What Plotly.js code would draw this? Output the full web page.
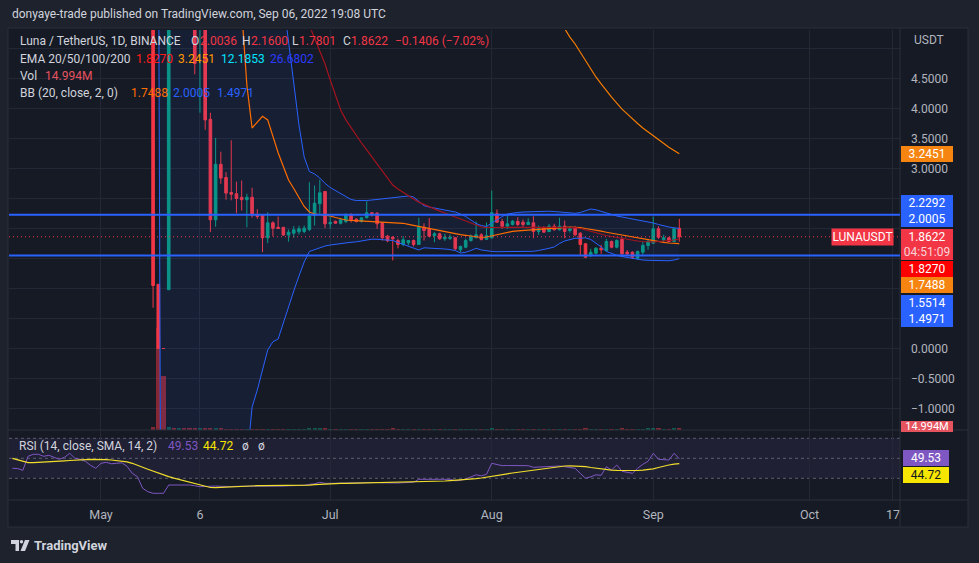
<!DOCTYPE html>
<html><head><meta charset="utf-8">
<script src="https://cdn.plot.ly/plotly-3.0.1.min.js"></script>
<style>html,body{margin:0;padding:0;background:#1e222d;}#chart{width:979px;height:563px;}</style>
</head><body><div id="chart"></div>
<script>
// ---------------- DATA (bar index: 0 = first RSI bar, 128 = Sep 06 2022) ----------------
const candleFirstBar = 27;
const open  = [6.0,1.07,0.0003,0.98,8.2,7.2,9.1,6.3,6.1,5.45,
  5.8,3.82,2.145,3.07,2.85,2.6,2.58,2.52,2.48,2.52,
  2.23,2.22,1.845,2.095,2.02,2.02,1.89,1.922,1.945,1.95,
  1.983,2.217,2.412,2.617,2.078,2.12,2.088,2.117,2.233,2.155,
  2.117,2.178,2.262,2.255,2.095,1.872,1.855,1.8,1.733,1.762,
  1.8,1.733,2.022,1.995,1.883,1.912,1.828,1.835,1.845,1.645,
  1.688,1.8,1.845,1.895,1.82,1.845,2.245,2.117,2.038,2.067,
  2.117,2.105,2.067,2.095,1.95,2.005,1.95,2.038,1.978,2.038,
  1.967,2.005,1.922,1.745,1.562,1.588,1.672,1.633,1.783,1.688,
  1.817,1.605,1.605,1.505,1.605,1.717,1.755,1.995,1.812,1.845,
  1.783,2.0036];
const high  = [8.0,1.07,0.0004,19.5,10.5,9.6,9.8,7.2,6.6,7.2,
  6.2,3.93,3.51,3.28,2.94,3.47,2.78,2.8,2.58,2.68,
  2.32,2.23,2.27,2.12,2.2,2.02,1.985,2.04,2.045,2.05,
  2.772,2.717,2.812,2.62,2.2,2.13,2.167,2.255,2.255,2.172,
  2.189,2.455,2.27,2.272,2.105,1.895,1.872,1.83,1.872,1.8,
  1.817,2.178,2.088,2.172,1.94,1.93,1.912,1.9,1.855,1.717,
  1.833,1.9,2.117,1.922,2.1,2.633,2.317,2.162,2.228,2.14,
  2.188,2.15,2.172,2.205,2.05,2.038,2.078,2.078,2.178,2.133,
  2.028,2.038,1.938,1.76,1.662,1.69,1.728,1.828,1.8,1.82,
  1.855,1.64,1.617,1.633,1.772,1.828,2.2,2.038,1.895,1.86,
  2.005,2.16];
const low   = [0.68,0.0001,0.0001,0.98,6.8,6.4,6.0,5.6,4.57,3.93,
  3.645,1.94,2.03,2.745,2.48,2.47,2.255,2.3,2.02,2.18,
  2.16,1.605,1.755,1.867,1.99,1.885,1.78,1.845,1.9,1.92,
  1.955,2.05,2.245,2.005,1.995,2.08,2.067,2.088,2.1,2.1,
  2.1,2.17,2.2,1.995,1.8,1.772,1.467,1.67,1.705,1.72,
  1.7,1.73,1.8,1.855,1.772,1.81,1.794,1.806,1.64,1.605,
  1.67,1.78,1.84,1.8,1.81,1.83,2.095,1.995,1.995,2.05,
  2.038,2.02,2.06,1.838,1.895,1.938,1.938,1.967,1.967,1.838,
  1.933,1.872,1.55,1.505,1.522,1.57,1.578,1.617,1.67,1.67,
  1.55,1.56,1.495,1.483,1.562,1.645,1.745,1.828,1.772,1.77,
  1.775,1.7801];
const close = [1.05,0.0001,0.0001,8.2,7.2,9.1,6.3,6.1,4.75,6.4,
  3.81,2.145,3.07,2.84,2.59,2.57,2.5,2.48,2.52,2.22,
  2.2,1.845,2.095,2.005,2.0,1.89,1.94,1.978,1.995,2.005,
  2.21,2.422,2.595,2.078,2.1,2.088,2.145,2.228,2.145,2.117,
  2.178,2.262,2.228,2.078,1.845,1.795,1.828,1.733,1.812,1.8,
  1.733,2.022,1.967,1.872,1.912,1.828,1.855,1.855,1.662,1.7,
  1.8,1.872,1.895,1.817,1.88,2.262,2.105,2.038,2.078,2.122,
  2.067,2.067,2.105,1.95,1.995,1.938,2.038,1.978,2.038,1.95,
  1.995,1.895,1.733,1.522,1.605,1.672,1.645,1.783,1.688,1.8,
  1.578,1.578,1.522,1.617,1.717,1.783,1.995,1.855,1.845,1.783,
  1.995,1.8622];
// volume, millions
const volumeM = [19,765,405,
  20,18,17,15,14,16,15,14,13,12,
  12,11,11,10,10,11,10,9,10,11,
  10,9,9,9,10,9,9,12,12,13,
  12,10,9,9,10,9,9,9,10,9,
  10,11,10,12,10,10,9,9,9,11,
  10,9,9,9,9,9,11,9,9,9,
  9,9,13,11,10,9,9,9,9,9,
  10,9,9,9,9,9,9,10,9,11,
  13,10,10,9,11,10,10,12,9,10,
  10,11,12,15,13,10,10,13,14.994];
// Bollinger Bands (20, 2)
const bbFirstBar = 27;
const bbUpper = [95,92,90,85,70,50,40,30,22,18,
  15,13.5,13,12.5,12,11.5,11,10.8,10.5,10,
  9.4,8.6,7.8,7.0,6.4,5.8,5.142,4.425,3.725,3.192,
  2.95,2.908,2.842,2.753,2.683,2.633,2.592,2.533,2.483,2.467,
  2.463,2.467,2.475,2.483,2.492,2.5,2.508,2.52,2.533,2.542,
  2.525,2.45,2.38,2.358,2.342,2.325,2.308,2.292,2.275,2.242,
  2.2,2.142,2.083,2.05,2.033,2.092,2.15,2.2,2.242,2.258,
  2.267,2.275,2.278,2.283,2.288,2.292,2.288,2.283,2.275,2.262,
  2.253,2.253,2.267,2.3,2.325,2.312,2.283,2.258,2.233,2.208,
  2.192,2.175,2.162,2.15,2.133,2.117,2.092,2.067,2.042,2.025,
  2.012,2.0005];
const bbBasis = [67,62,57,52,40,16,13,11,9.5,8.5,
  8,7.5,7.2,7,6.8,6.5,6.2,5.64,4.39,3.675,
  3.78,3.87,3.81,3.525,3.263,3.033,2.808,2.667,2.517,2.367,
  2.275,2.242,2.233,2.225,2.208,2.183,2.163,2.142,2.135,2.13,
  2.127,2.125,2.122,2.12,2.117,2.112,2.105,2.097,2.087,2.07,
  2.053,2.037,2.02,2.003,1.983,1.967,1.947,1.928,1.908,1.897,
  1.887,1.878,1.863,1.85,1.858,1.878,1.9,1.922,1.937,1.952,
  1.962,1.968,1.973,1.98,1.988,1.995,2.002,2.008,2.015,2.02,
  2.022,2.02,2.017,2.0,1.988,1.972,1.955,1.938,1.922,1.905,
  1.888,1.872,1.855,1.838,1.822,1.805,1.792,1.778,1.768,1.758,
  1.75,1.7488];
const bbLower = [40,8,-16,-30,-25,-18,-14,-11,-9,-7.5,
  -6.5,-5.6,-5,-4.5,-4,-3.6,-3.2,-2.8,-1.9,-0.975,
  -0.692,-0.342,-0.025,0.113,0.158,0.425,0.708,0.958,1.208,1.442,
  1.617,1.65,1.675,1.708,1.725,1.738,1.752,1.762,1.77,1.778,
  1.792,1.813,1.822,1.82,1.817,1.812,1.8,1.767,1.737,1.703,
  1.67,1.642,1.678,1.675,1.672,1.667,1.658,1.648,1.632,1.592,
  1.603,1.633,1.67,1.642,1.625,1.617,1.613,1.613,1.613,1.613,
  1.613,1.613,1.615,1.62,1.633,1.648,1.67,1.692,1.75,1.792,
  1.817,1.837,1.837,1.845,1.817,1.758,1.692,1.617,1.583,1.553,
  1.533,1.517,1.495,1.483,1.475,1.47,1.465,1.462,1.458,1.462,
  1.475,1.4971];
// EMA 20 / EMA 50
const ema20FirstBar = 56;
const ema20 = [5.6,5.39,5.175,4.94,4.74,4.475,4.225,3.975,3.81,3.675,3.54,
  3.425,3.31,3.19,3.075,2.96,2.84,2.725,2.658,2.6,2.54,
  2.49,2.44,2.4,2.358,2.325,2.29,2.258,2.225,2.19,2.158,
  2.125,2.09,2.058,2.025,2.017,2.017,2.025,2.025,2.027,2.028,
  2.028,2.027,2.025,2.022,2.018,2.018,2.018,2.018,2.018,2.015,
  2.015,2.013,2.0,1.975,1.95,1.925,1.908,1.883,1.867,1.85,
  1.833,1.825,1.808,1.792,1.783,1.775,1.775,1.783,1.792,1.79,
  1.808,1.827];
const ema50FirstBar = 105;
const ema50 = [5.47,5.325,5.19,5.075,4.94,4.79,4.66,4.525,4.41,4.29,4.19,4.09,
  3.99,3.91,3.825,3.75,3.675,3.61,3.54,3.48,3.42,3.355,3.30,3.2451];
// RSI (14) and its SMA (14)
const rsiFirstBar = 0;
const rsi = [40,39.8,38,52,54,54,52,53,51,49,
  51,55,50,49,47,43,40,45,46,44.5,
  45,45.5,42,35,31.6,20,16.6,15,15,15,
  23.3,23.3,23.5,23.3,23.3,22.5,21.6,21.8,22.3,22.3,
  22,21.6,21.8,22,22,22.2,22,22,21.6,22.3,
  22.3,22.3,22.2,22.5,22.6,22.8,23,24,24.5,26,
  25,25,25,25.2,25.3,25.5,25.3,25.5,25.8,26,
  25.8,25.5,25.3,25.4,25.3,25.6,25.8,26,29,29,
  28.8,29,29,28.8,29,27.5,28,29.3,31.6,33.5,
  32.5,34,45,43.5,42.6,42.8,42.6,42.4,42.6,42.6,
  41,41.3,41.6,42.3,42.6,42.3,41.6,41,40,35,
  30,31.5,33.5,33,41.6,38.3,43.3,37,36,35,
  40,44,47,55,49,49,48.3,55,49.53];
const rsiMA = [50,48.5,46.5,45.6,45.6,45.8,46,46.4,46.7,47,
  47.4,47.8,48.3,48.5,48.7,48.9,49,49,48.7,48.3,
  47.8,47.2,46.5,45,43.3,41,39,37,35,33.3,
  31.7,30.2,28.8,27.5,26.3,24.8,23.3,22,20.8,20.7,
  21,21.5,21.8,22,22.2,22.4,22.6,22.6,22.6,22.6,
  22.6,22.6,22.6,22.6,22.6,22.6,22.8,23.2,23.6,24,
  24.3,24.5,24.7,24.9,25,25.1,25.2,25.3,25.4,25.5,
  25.6,25.7,25.7,25.8,25.8,25.9,25.9,26,26.2,26.4,
  26.6,26.8,27,27.3,27.6,27.9,28.2,28.5,29,29.6,
  30.3,31,32,32.8,33.6,34.5,35.3,36,36.8,37.5,
  38.3,39,39.8,40.5,41.2,41.8,42.3,42.4,42.3,42,
  41.6,40.8,40,39.2,38.6,38.2,37.9,37.7,37.6,37.6,
  37.8,38.1,38.6,39.5,40.8,42.2,43.3,44.1,44.72];
// horizontal drawn levels, RSI levels
const hLevels = [2.2292, 1.5514];
const rsiLevels = [70, 50, 30];
// time axis
const tickBars   = [17, 36, 61, 92, 123, 153, 169];
const tickLabels = ['May', '6', 'Jul', 'Aug', 'Sep', 'Oct', '17'];
// price scale labels that are not covered by value tags
const priceTicks = [4.5, 4.0, 3.5, 3.0, 0.0, -0.5, -1.0];
// legend values
const ohlcText = {O:'2.0036', H:'2.1600', L:'1.7801', C:'1.8622', chg:'\u22120.1406 (\u22127.02%)'};
const emaText = ['1.8270','3.2451','12.1853','26.6802'];
const bbText = ['1.7488','2.0005','1.4971'];
const volText = '14.994M';
const rsiText = ['49.53','44.72'];

// ---------------- CHART ----------------
const FONT = 'Roboto, "Liberation Sans", sans-serif';
const UP = '#089981', DN = '#f23645';
const seq = (first, n) => Array.from({length:n}, (_, i) => first + i);
const cBars = seq(candleFirstBar, open.length);
const isUp = open.map((o, i) => close[i] >= o);

const traces = [
  {type:'bar', x:cBars, y:volumeM.map(v => v * 1e6), xaxis:'x', yaxis:'y', width:0.8,
   marker:{color:isUp.map(u => u ? 'rgba(8,153,129,0.5)' : 'rgba(242,54,69,0.5)'), line:{width:0}}, hoverinfo:'skip'},
  {type:'scatter', mode:'lines', x:seq(bbFirstBar, bbUpper.length), y:bbUpper, xaxis:'x', yaxis:'y3',
   line:{color:'#2962ff', width:1}, hoverinfo:'skip'},
  {type:'scatter', mode:'lines', x:seq(bbFirstBar, bbLower.length), y:bbLower, xaxis:'x', yaxis:'y3',
   line:{color:'#2962ff', width:1}, fill:'tonexty', fillcolor:'rgba(41,98,255,0.07)', hoverinfo:'skip'},
  {type:'scatter', mode:'lines', x:seq(bbFirstBar, bbBasis.length), y:bbBasis, xaxis:'x', yaxis:'y3',
   line:{color:'#ff6d00', width:1.2}, hoverinfo:'skip'},
  {type:'scatter', mode:'lines', x:seq(ema20FirstBar, ema20.length), y:ema20, xaxis:'x', yaxis:'y3',
   line:{color:'#a3141f', width:1.2}, hoverinfo:'skip'},
  {type:'scatter', mode:'lines', x:seq(ema50FirstBar, ema50.length), y:ema50, xaxis:'x', yaxis:'y3',
   line:{color:'#f57c00', width:1.2}, hoverinfo:'skip'},
  {type:'candlestick', x:cBars, open:open, high:high, low:low, close:close, xaxis:'x', yaxis:'y3',
   increasing:{line:{color:UP, width:1}, fillcolor:UP},
   decreasing:{line:{color:DN, width:1}, fillcolor:DN},
   whiskerwidth:0, hoverinfo:'skip'},
  {type:'scatter', mode:'lines', x:seq(rsiFirstBar, rsi.length), y:rsi, xaxis:'x', yaxis:'y2',
   line:{color:'#7e57c2', width:1}, hoverinfo:'skip'},
  {type:'scatter', mode:'lines', x:seq(rsiFirstBar, rsiMA.length), y:rsiMA, xaxis:'x', yaxis:'y2',
   line:{color:'#f0de2a', width:1.2}, hoverinfo:'skip'}
];

// pixel helpers for frame / labels
const PL = 9, PR = 900, PT = 30, PB = 500, SPLIT = 430;
const PX = x => (x - PL) / (PR - PL);
const PY = y => (PB - y) / (PB - PT);
const splitDom = PY(SPLIT);

const ann = [];
function txt(x, y, text, color, size, extra) {
  ann.push(Object.assign({xref:'paper', yref:'paper', x:PX(x), y:PY(y), xanchor:'left', yanchor:'middle',
    text:text, showarrow:false, font:{family:FONT, size:size || 12, color:color}}, extra || {}));
}
function box(cx, cy, text, bg, fg, w, h, fs) {
  ann.push({xref:'paper', yref:'paper', x:PX(cx), y:PY(cy), xanchor:'center', yanchor:'middle',
    text:text, showarrow:false, bgcolor:bg, borderpad:0, borderwidth:0, width:w || 52, height:h || 16,
    font:{family:FONT, size:fs || 12, color:fg || '#ffffff'}});
}
const G = '#d1d4dc';
txt(10, 14, 'donyaye-trade published on TradingView.com, Sep 06, 2022 19:08 UTC', G, 12);
txt(18, 41, 'Luna / TetherUS, 1D, BINANCE', G);
txt(189, 41, 'O', G); txt(198, 41, ohlcText.O, DN);
txt(240, 41, 'H', G); txt(249, 41, ohlcText.H, DN);
txt(290, 41, 'L', G); txt(297, 41, ohlcText.L, DN);
txt(341, 41, 'C', G); txt(349, 41, ohlcText.C, DN);
txt(393, 41, ohlcText.chg, DN);
txt(18, 59, 'EMA 20/50/100/200', G);
txt(134, 59, emaText[0], '#ff1a1a'); txt(176, 59, emaText[1], '#ff9800');
txt(219, 59, emaText[2], '#00e5ff'); txt(268, 59, emaText[3], '#2a3bff');
txt(18, 76, 'Vol', G); txt(43, 76, volText, '#e5535f');
txt(18, 93, 'BB (20, close, 2, 0)', G);
txt(129, 93, bbText[0], '#ff6d00'); txt(171, 93, bbText[1], '#2962ff'); txt(215, 93, bbText[2], '#2962ff');
txt(17, 446, 'RSI (14, close, SMA, 14, 2)', G);
txt(166, 446, rsiText[0], '#7e57c2'); txt(201, 446, rsiText[1], '#f7e600');
txt(240, 446, '\u00f8', G); txt(256, 446, '\u00f8', G);
// right scale labels
ann.push({xref:'paper', yref:'paper', x:PX(911), y:PY(40), xanchor:'left', yanchor:'middle', text:'USDT',
  showarrow:false, borderpad:2, font:{family:FONT, size:12, color:'#b2b5be'}});
box(927, 154, emaText[1], '#f68410');
box(927, 203, '2.2292', '#2962ff');
box(927, 219, bbText[1], '#2962ff');
box(927, 236.5, ohlcText.C, DN);
box(927, 251.5, '04:51:09', DN, '#f9d3d7');
box(927, 268.5, emaText[0], '#ff0000');
box(927, 285, bbText[0], '#f68410');
box(927, 302.5, '1.5514', '#2962ff');
box(927, 318.5, bbText[2], '#2962ff');
box(927, 426, volText, '#e5535f', '#ffffff', 52, 11, 11);
box(926, 458.3, rsiText[0], '#7e57c2', '#ffffff', 46, 16);
box(926, 475.3, rsiText[1], '#f7e600', '#131722', 46, 16);
// symbol label
ann.push({xref:'paper', yref:'paper', x:PX(894), y:PY(237), xanchor:'right', yanchor:'middle', text:'LUNAUSDT',
  showarrow:false, bgcolor:DN, borderpad:0, width:61, height:16, font:{family:FONT, size:12, color:'#ffffff'}});
// footer
txt(32, 545, '<b>TradingView</b>', G, 13);

const LC = '#2a2e39';
const shapes = [
  {type:'rect', xref:'paper', yref:'paper', x0:PX(8), x1:PX(968), y0:PY(28), y1:PY(527), fillcolor:'#161a25',
   line:{color:LC, width:1}, layer:'below'},
  {type:'rect', xref:'paper', yref:'y2', x0:0, x1:1, y0:rsiLevels[2], y1:rsiLevels[0], fillcolor:'rgba(126,87,194,0.1)',
   line:{width:0}, layer:'below'},
  ...rsiLevels.map(v => ({type:'line', xref:'paper', yref:'y2', x0:0, x1:1, y0:v, y1:v,
    line:{color:'#5d606b', width:1, dash:'3px,3px'}, layer:'below'})),
  {type:'line', xref:'paper', yref:'paper', x0:PX(8), x1:PX(968), y0:PY(SPLIT), y1:PY(SPLIT), line:{color:LC, width:1}},
  {type:'line', xref:'paper', yref:'paper', x0:PX(8), x1:PX(968), y0:0, y1:0, line:{color:LC, width:1}},
  {type:'line', xref:'paper', yref:'paper', x0:1, x1:1, y0:PY(28), y1:PY(527), line:{color:LC, width:1}},
  ...hLevels.map(v => ({type:'line', xref:'paper', yref:'y3', x0:0, x1:1, y0:v, y1:v,
    line:{color:'#2962ff', width:2}, layer:'above'})),
  {type:'line', xref:'paper', yref:'y3', x0:0, x1:1, y0:close[close.length-1], y1:close[close.length-1],
   line:{color:DN, width:1, dash:'1px,3px'}, layer:'above'},
  // TradingView logo
  {type:'path', xref:'paper', yref:'paper', layer:'above', fillcolor:G, line:{width:0},
   path:`M${PX(11)},${PY(540)} L${PX(19)},${PY(540)} L${PX(19)},${PY(551)} L${PX(15.5)},${PY(551)} L${PX(15.5)},${PY(544)} L${PX(11)},${PY(544)} Z`},
  {type:'circle', xref:'paper', yref:'paper', layer:'above', fillcolor:G, line:{width:0},
   x0:PX(19.8), x1:PX(23.2), y0:PY(540), y1:PY(543.4)},
  {type:'path', xref:'paper', yref:'paper', layer:'above', fillcolor:G, line:{width:0},
   path:`M${PX(25)},${PY(540)} L${PX(29.5)},${PY(540)} L${PX(25)},${PY(551)} L${PX(20.5)},${PY(551)} Z`}
];

const layout = {
  width:979, height:563,
  margin:{l:PL, r:979-PR, t:PT, b:563-PB, pad:0},
  paper_bgcolor:'#1e222d', plot_bgcolor:'rgba(0,0,0,0)',
  showlegend:false, hovermode:false, dragmode:false,
  boxgap:0.5, boxgroupgap:0, bargap:0,
  font:{family:FONT, color:'#b2b5be', size:12},
  xaxis:{range:[-0.656, 170.36], anchor:'y2', tickmode:'array', tickvals:tickBars, ticktext:tickLabels,
    showgrid:true, gridcolor:'#242836', gridwidth:1, zeroline:false, showline:false, ticks:'',
    ticklabelstandoff:5, tickfont:{family:FONT, size:12.5, color:'#b2b5be'}, rangeslider:{visible:false}, fixedrange:true},
  yaxis:{domain:[splitDom, 1], range:[0, 3.0e9], visible:false, fixedrange:true},
  yaxis3:{overlaying:'y', anchor:'x', side:'right', range:[-1.358, 5.308], tickmode:'array', tickvals:priceTicks,
    tickformat:'.4f', showgrid:true, gridcolor:'#242836', zeroline:false, showline:false, ticks:'',
    minor:{tickmode:'linear', tick0:0, dtick:0.5, showgrid:true, gridcolor:'#242836', ticks:''},
    ticklabelstandoff:10, tickfont:{family:FONT, size:12, color:'#b2b5be'}, fixedrange:true},
  yaxis2:{domain:[0, splitDom], range:[8.3, 78.3], showgrid:false, zeroline:false, showticklabels:false,
    ticks:'', showline:false, fixedrange:true},
  shapes:shapes, annotations:ann
};
Plotly.newPlot('chart', traces, layout, {staticPlot:true, displayModeBar:false});
</script></body></html>
